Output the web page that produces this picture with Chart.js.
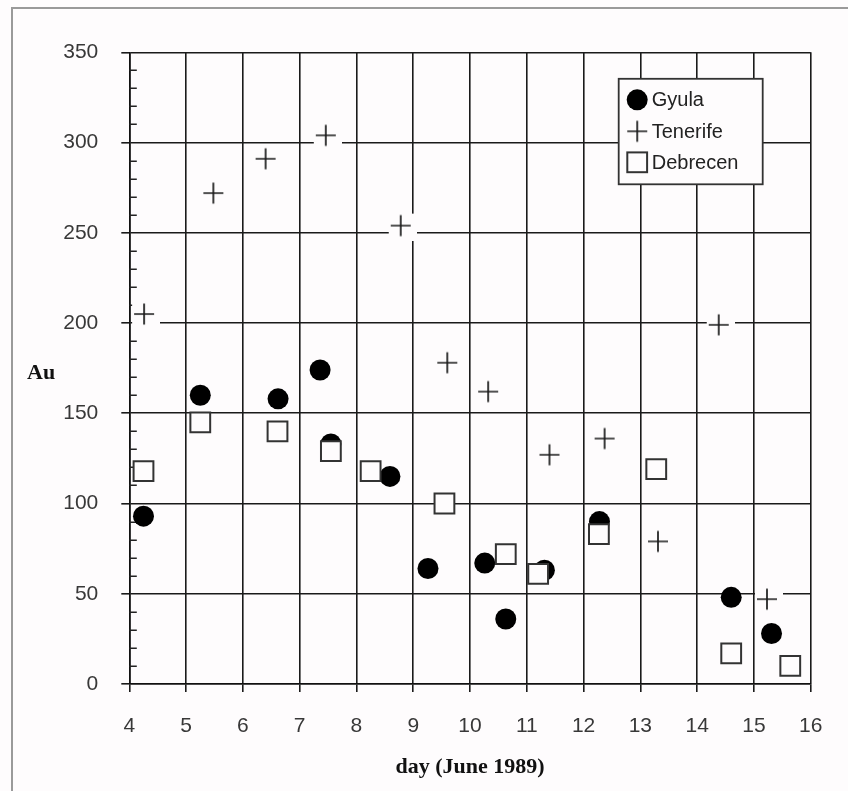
<!DOCTYPE html>
<html>
<head>
<meta charset="utf-8">
<title>Au, June 1989</title>
<script src="https://cdn.jsdelivr.net/npm/chart.js"></script>
<style>
  html, body { margin: 0; padding: 0; background: #fefcfd; }
  canvas { display: block; }
</style>
</head>
<body>
<canvas id="chart" width="848" height="791"></canvas>
<script>
// Axis ticks
const xTicks = [4, 5, 6, 7, 8, 9, 10, 11, 12, 13, 14, 15, 16];
const yTicks = [0, 50, 100, 150, 200, 250, 300, 350];
const yMinorStep = 10;

// Series: day of June 1989 and Au value
const seriesNames = ['Gyula', 'Tenerife', 'Debrecen'];

const gyulaDay = [4.25, 5.25, 6.62, 7.36, 7.55, 8.59, 9.26, 10.26, 10.63, 11.31, 12.28, 14.60, 15.31];
const gyulaAu  = [93, 160, 158, 174, 133, 115, 64, 67, 36, 63, 90, 48, 28];

const tenerifeDay = [4.26, 5.48, 6.40, 7.46, 8.78, 9.60, 10.32, 11.40, 12.37, 13.31, 14.38, 15.23];
const tenerifeAu  = [205, 272, 291, 304, 254, 178, 162, 127, 136, 79, 199, 47];

const debrecenDay = [4.25, 5.25, 6.61, 7.55, 8.25, 9.55, 10.63, 11.20, 12.27, 13.28, 14.60, 15.64];
const debrecenAu  = [118, 145, 140, 129, 118, 100, 72, 61, 83, 119, 17, 10];

const BG = '#fefcfd';
const SANS = '"Liberation Sans", Arial, Helvetica, sans-serif';
const SERIF = '"Liberation Serif", "Times New Roman", serif';

const pairs = (xs, ys) => xs.map((x, i) => ({ x: x, y: ys[i] }));

// Plus marker with a small paper-coloured backing, so grid lines break around it
function plusMarker() {
  const c = document.createElement('canvas');
  c.width = 32; c.height = 30;
  const g = c.getContext('2d');
  g.fillStyle = BG;
  g.fillRect(4, 3, 28, 27);
  g.strokeStyle = '#1a1a1a';
  g.lineWidth = 1.7;
  g.beginPath();
  g.moveTo(6, 15); g.lineTo(26, 15);
  g.moveTo(16, 4.5); g.lineTo(16, 25.5);
  g.stroke();
  return c;
}
const plusImg = plusMarker();

const pageFrame = {
  id: 'pageFrame',
  beforeDraw(chart) {
    const ctx = chart.ctx;
    ctx.save();
    ctx.fillStyle = BG;
    ctx.fillRect(0, 0, chart.width, chart.height);
    ctx.strokeStyle = '#9a9a9a';
    ctx.lineWidth = 2;
    ctx.beginPath();
    ctx.moveTo(12, chart.height + 2);
    ctx.lineTo(12, 8);
    ctx.lineTo(chart.width + 2, 8);
    ctx.stroke();
    ctx.restore();
  }
};

const minorTicks = {
  id: 'minorTicks',
  beforeDatasetsDraw(chart) {
    const y = chart.scales.y;
    const ctx = chart.ctx;
    const left = chart.chartArea.left;
    ctx.save();
    ctx.strokeStyle = '#222';
    ctx.lineWidth = 1.5;
    ctx.beginPath();
    for (let v = y.min + yMinorStep; v < y.max; v += yMinorStep) {
      if (yTicks.includes(v)) continue;
      const py = Math.round(y.getPixelForValue(v)) + 0.25;
      ctx.moveTo(left, py);
      ctx.lineTo(left + 7.5, py);
    }
    ctx.stroke();
    ctx.restore();
  }
};

const sideTitle = {
  id: 'sideTitle',
  afterDraw(chart) {
    const ctx = chart.ctx;
    const y = chart.scales.y;
    ctx.save();
    ctx.font = 'bold 22px ' + SERIF;
    ctx.fillStyle = '#111';
    ctx.textAlign = 'left';
    ctx.textBaseline = 'middle';
    ctx.fillText('Au', 27, (y.top + y.bottom) / 2 + 5);
    ctx.restore();
  }
};

const boxLegend = {
  id: 'boxLegend',
  afterDraw(chart) {
    const ctx = chart.ctx;
    const area = chart.chartArea;
    const bx = area.right - 192, by = area.top + 26.5, bw = 144, bh = 105.5;
    ctx.save();
    ctx.fillStyle = BG;
    ctx.fillRect(bx, by, bw, bh);
    ctx.strokeStyle = '#333';
    ctx.lineWidth = 1.8;
    ctx.strokeRect(bx, by, bw, bh);

    const mx = bx + 18.5;
    const rows = [by + 21, by + 52.5, by + 83.5];
    ctx.font = '20px ' + SANS;
    ctx.textAlign = 'left';
    ctx.textBaseline = 'middle';
    seriesNames.forEach((name, i) => {
      const ds = chart.data.datasets.find(d => d.label === name);
      const cy = rows[i];
      if (ds.pointStyle === 'circle') {
        ctx.fillStyle = ds.backgroundColor;
        ctx.beginPath();
        ctx.arc(mx, cy, ds.pointRadius, 0, Math.PI * 2);
        ctx.fill();
      } else if (ds.pointStyle === 'rect') {
        const s = ds.pointRadius * Math.SQRT1_2;
        ctx.fillStyle = ds.backgroundColor;
        ctx.strokeStyle = ds.borderColor;
        ctx.lineWidth = ds.borderWidth;
        ctx.fillRect(mx - s, cy - s, 2 * s, 2 * s);
        ctx.strokeRect(mx - s, cy - s, 2 * s, 2 * s);
      } else {
        const img = ds.pointStyle;
        ctx.drawImage(img, mx - img.width / 2, cy - img.height / 2);
      }
      ctx.fillStyle = '#222';
      ctx.fillText(name, bx + 33, cy + 1);
    });
    ctx.restore();
  }
};

new Chart(document.getElementById('chart'), {
  type: 'scatter',
  data: {
    datasets: [
      {
        label: 'Gyula',
        data: pairs(gyulaDay, gyulaAu),
        pointStyle: 'circle',
        pointRadius: 10.5,
        pointHoverRadius: 10.5,
        backgroundColor: '#000',
        borderColor: '#000',
        borderWidth: 0,
        order: 1,
        clip: false
      },
      {
        label: 'Tenerife',
        data: pairs(tenerifeDay, tenerifeAu),
        pointStyle: plusImg,
        pointRadius: 10,
        pointHoverRadius: 10,
        backgroundColor: '#222',
        borderColor: '#222',
        order: 2,
        clip: false
      },
      {
        label: 'Debrecen',
        data: pairs(debrecenDay, debrecenAu),
        pointStyle: 'rect',
        pointRadius: 14,
        pointHoverRadius: 14,
        backgroundColor: BG,
        borderColor: '#333',
        borderWidth: 2,
        order: 0,
        clip: false
      }
    ]
  },
  options: {
    responsive: false,
    animation: false,
    events: [],
    layout: { padding: { left: 0, top: 52.3, right: 37.3, bottom: 0 } },
    plugins: {
      legend: { display: false },
      tooltip: { enabled: false }
    },
    scales: {
      x: {
        type: 'linear',
        min: xTicks[0],
        max: xTicks[xTicks.length - 1],
        afterBuildTicks(scale) { scale.ticks = xTicks.map(v => ({ value: v })); },
        afterFit(scale) { scale.height = 107; },
        grid: {
          color: '#1a1a1a',
          lineWidth: 1.6,
          tickLength: 8,
          tickColor: '#1a1a1a'
        },
        border: { color: '#111', width: 1.6 },
        ticks: {
          color: '#383838',
          font: { family: SANS, size: 21 },
          padding: 22,
          maxRotation: 0
        },
        title: {
          display: true,
          text: 'day (June 1989)',
          color: '#111',
          font: { family: SERIF, size: 22, weight: 'bold' },
          padding: { top: 0, bottom: 10 }
        }
      },
      y: {
        type: 'linear',
        min: yTicks[0],
        max: yTicks[yTicks.length - 1],
        afterBuildTicks(scale) { scale.ticks = yTicks.map(v => ({ value: v })); },
        afterFit(scale) { scale.width = 129.3; },
        grid: {
          color: '#1a1a1a',
          lineWidth: 1.6,
          tickLength: 8,
          tickColor: '#1a1a1a'
        },
        border: { color: '#111', width: 1.6 },
        ticks: {
          color: '#383838',
          font: { family: SANS, size: 21 },
          padding: 23
        }
      }
    }
  },
  plugins: [pageFrame, minorTicks, sideTitle, boxLegend]
});
</script>
</body>
</html>
